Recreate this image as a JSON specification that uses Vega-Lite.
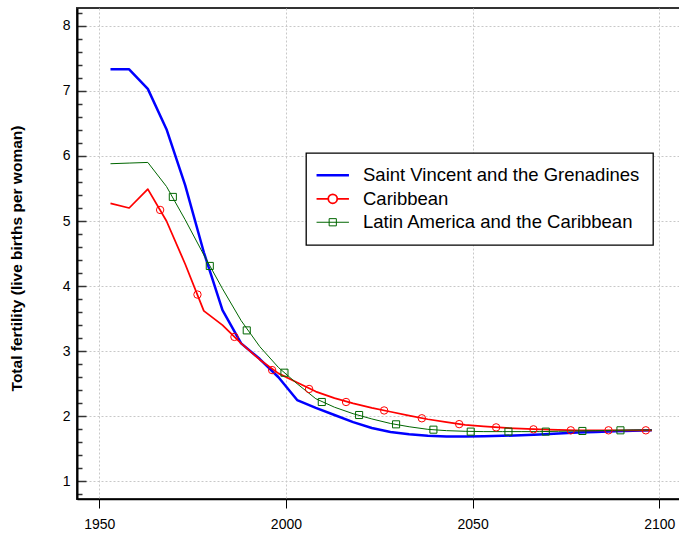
{
  "$schema": "https://vega.github.io/schema/vega-lite/v6.json",
  "width": 604,
  "height": 491,
  "autosize": {"type": "none"},
  "padding": {"left": 77, "top": 8, "right": 0, "bottom": 36},
  "background": "white",
  "config": {
    "view": {"stroke": "#333333", "strokeWidth": 2},
    "font": "Liberation Sans"
  },
  "title": {
    "text": "Total fertility",
    "font": "Liberation Sans",
    "fontSize": 18,
    "fontWeight": "bold",
    "color": "black",
    "anchor": "start",
    "frame": "group",
    "dx": 253,
    "baseline": "alphabetic",
    "offset": 8.5
  },
  "datasets": {
    "lines": [
      {"series": "Saint Vincent and the Grenadines", "year": 1953, "tfr": 7.33},
      {"series": "Saint Vincent and the Grenadines", "year": 1958, "tfr": 7.33},
      {"series": "Saint Vincent and the Grenadines", "year": 1963, "tfr": 7.03},
      {"series": "Saint Vincent and the Grenadines", "year": 1968, "tfr": 6.41},
      {"series": "Saint Vincent and the Grenadines", "year": 1973, "tfr": 5.55},
      {"series": "Saint Vincent and the Grenadines", "year": 1978, "tfr": 4.52},
      {"series": "Saint Vincent and the Grenadines", "year": 1983, "tfr": 3.63},
      {"series": "Saint Vincent and the Grenadines", "year": 1988, "tfr": 3.12},
      {"series": "Saint Vincent and the Grenadines", "year": 1993, "tfr": 2.88},
      {"series": "Saint Vincent and the Grenadines", "year": 1998, "tfr": 2.6},
      {"series": "Saint Vincent and the Grenadines", "year": 2003, "tfr": 2.25},
      {"series": "Saint Vincent and the Grenadines", "year": 2008, "tfr": 2.13},
      {"series": "Saint Vincent and the Grenadines", "year": 2013, "tfr": 2.02},
      {"series": "Saint Vincent and the Grenadines", "year": 2018, "tfr": 1.91},
      {"series": "Saint Vincent and the Grenadines", "year": 2023, "tfr": 1.82},
      {"series": "Saint Vincent and the Grenadines", "year": 2028, "tfr": 1.76},
      {"series": "Saint Vincent and the Grenadines", "year": 2033, "tfr": 1.725},
      {"series": "Saint Vincent and the Grenadines", "year": 2038, "tfr": 1.7},
      {"series": "Saint Vincent and the Grenadines", "year": 2043, "tfr": 1.69},
      {"series": "Saint Vincent and the Grenadines", "year": 2048, "tfr": 1.69},
      {"series": "Saint Vincent and the Grenadines", "year": 2053, "tfr": 1.695},
      {"series": "Saint Vincent and the Grenadines", "year": 2058, "tfr": 1.7},
      {"series": "Saint Vincent and the Grenadines", "year": 2063, "tfr": 1.71},
      {"series": "Saint Vincent and the Grenadines", "year": 2068, "tfr": 1.72},
      {"series": "Saint Vincent and the Grenadines", "year": 2073, "tfr": 1.735},
      {"series": "Saint Vincent and the Grenadines", "year": 2078, "tfr": 1.75},
      {"series": "Saint Vincent and the Grenadines", "year": 2083, "tfr": 1.76},
      {"series": "Saint Vincent and the Grenadines", "year": 2088, "tfr": 1.77},
      {"series": "Saint Vincent and the Grenadines", "year": 2093, "tfr": 1.78},
      {"series": "Saint Vincent and the Grenadines", "year": 2098, "tfr": 1.785},
      {"series": "Caribbean", "year": 1953, "tfr": 5.27},
      {"series": "Caribbean", "year": 1958, "tfr": 5.2},
      {"series": "Caribbean", "year": 1963, "tfr": 5.49},
      {"series": "Caribbean", "year": 1968, "tfr": 5.0},
      {"series": "Caribbean", "year": 1973, "tfr": 4.34},
      {"series": "Caribbean", "year": 1978, "tfr": 3.62},
      {"series": "Caribbean", "year": 1983, "tfr": 3.4},
      {"series": "Caribbean", "year": 1988, "tfr": 3.12},
      {"series": "Caribbean", "year": 1993, "tfr": 2.87},
      {"series": "Caribbean", "year": 1998, "tfr": 2.66},
      {"series": "Caribbean", "year": 2003, "tfr": 2.52},
      {"series": "Caribbean", "year": 2008, "tfr": 2.38},
      {"series": "Caribbean", "year": 2013, "tfr": 2.28},
      {"series": "Caribbean", "year": 2018, "tfr": 2.2},
      {"series": "Caribbean", "year": 2023, "tfr": 2.13},
      {"series": "Caribbean", "year": 2028, "tfr": 2.07},
      {"series": "Caribbean", "year": 2033, "tfr": 2.01},
      {"series": "Caribbean", "year": 2038, "tfr": 1.955},
      {"series": "Caribbean", "year": 2043, "tfr": 1.91},
      {"series": "Caribbean", "year": 2048, "tfr": 1.87},
      {"series": "Caribbean", "year": 2053, "tfr": 1.845},
      {"series": "Caribbean", "year": 2058, "tfr": 1.825},
      {"series": "Caribbean", "year": 2063, "tfr": 1.81},
      {"series": "Caribbean", "year": 2068, "tfr": 1.8},
      {"series": "Caribbean", "year": 2073, "tfr": 1.79},
      {"series": "Caribbean", "year": 2078, "tfr": 1.785},
      {"series": "Caribbean", "year": 2083, "tfr": 1.785},
      {"series": "Caribbean", "year": 2088, "tfr": 1.785},
      {"series": "Caribbean", "year": 2093, "tfr": 1.785},
      {"series": "Caribbean", "year": 2098, "tfr": 1.785},
      {"series": "Latin America and the Caribbean", "year": 1953, "tfr": 5.88},
      {"series": "Latin America and the Caribbean", "year": 1958, "tfr": 5.89},
      {"series": "Latin America and the Caribbean", "year": 1963, "tfr": 5.9},
      {"series": "Latin America and the Caribbean", "year": 1968, "tfr": 5.53},
      {"series": "Latin America and the Caribbean", "year": 1973, "tfr": 5.02},
      {"series": "Latin America and the Caribbean", "year": 1978, "tfr": 4.48},
      {"series": "Latin America and the Caribbean", "year": 1983, "tfr": 3.96},
      {"series": "Latin America and the Caribbean", "year": 1988, "tfr": 3.47},
      {"series": "Latin America and the Caribbean", "year": 1993, "tfr": 3.07},
      {"series": "Latin America and the Caribbean", "year": 1998, "tfr": 2.75},
      {"series": "Latin America and the Caribbean", "year": 2003, "tfr": 2.5},
      {"series": "Latin America and the Caribbean", "year": 2008, "tfr": 2.27},
      {"series": "Latin America and the Caribbean", "year": 2013, "tfr": 2.14},
      {"series": "Latin America and the Caribbean", "year": 2018, "tfr": 2.04},
      {"series": "Latin America and the Caribbean", "year": 2023, "tfr": 1.96},
      {"series": "Latin America and the Caribbean", "year": 2028, "tfr": 1.89},
      {"series": "Latin America and the Caribbean", "year": 2033, "tfr": 1.84},
      {"series": "Latin America and the Caribbean", "year": 2038, "tfr": 1.8},
      {"series": "Latin America and the Caribbean", "year": 2043, "tfr": 1.78},
      {"series": "Latin America and the Caribbean", "year": 2048, "tfr": 1.77},
      {"series": "Latin America and the Caribbean", "year": 2053, "tfr": 1.765},
      {"series": "Latin America and the Caribbean", "year": 2058, "tfr": 1.765},
      {"series": "Latin America and the Caribbean", "year": 2063, "tfr": 1.765},
      {"series": "Latin America and the Caribbean", "year": 2068, "tfr": 1.765},
      {"series": "Latin America and the Caribbean", "year": 2073, "tfr": 1.77},
      {"series": "Latin America and the Caribbean", "year": 2078, "tfr": 1.775},
      {"series": "Latin America and the Caribbean", "year": 2083, "tfr": 1.78},
      {"series": "Latin America and the Caribbean", "year": 2088, "tfr": 1.785},
      {"series": "Latin America and the Caribbean", "year": 2093, "tfr": 1.79},
      {"series": "Latin America and the Caribbean", "year": 2098, "tfr": 1.79}
    ],
    "markers": [
      {"series": "Caribbean", "year": 1966.3, "tfr": 5.17},
      {"series": "Caribbean", "year": 1976.3, "tfr": 3.87},
      {"series": "Caribbean", "year": 1986.2, "tfr": 3.22},
      {"series": "Caribbean", "year": 1996.3, "tfr": 2.71},
      {"series": "Caribbean", "year": 2006.2, "tfr": 2.42},
      {"series": "Caribbean", "year": 2016.1, "tfr": 2.22},
      {"series": "Caribbean", "year": 2026.3, "tfr": 2.09},
      {"series": "Caribbean", "year": 2036.4, "tfr": 1.97},
      {"series": "Caribbean", "year": 2046.4, "tfr": 1.88},
      {"series": "Caribbean", "year": 2056.3, "tfr": 1.83},
      {"series": "Caribbean", "year": 2066.3, "tfr": 1.8},
      {"series": "Caribbean", "year": 2076.3, "tfr": 1.785},
      {"series": "Caribbean", "year": 2086.4, "tfr": 1.785},
      {"series": "Caribbean", "year": 2096.4, "tfr": 1.785},
      {"series": "Latin America and the Caribbean", "year": 1969.7, "tfr": 5.37},
      {"series": "Latin America and the Caribbean", "year": 1979.6, "tfr": 4.31},
      {"series": "Latin America and the Caribbean", "year": 1989.5, "tfr": 3.32},
      {"series": "Latin America and the Caribbean", "year": 1999.6, "tfr": 2.67},
      {"series": "Latin America and the Caribbean", "year": 2009.6, "tfr": 2.22},
      {"series": "Latin America and the Caribbean", "year": 2019.6, "tfr": 2.02},
      {"series": "Latin America and the Caribbean", "year": 2029.5, "tfr": 1.877},
      {"series": "Latin America and the Caribbean", "year": 2039.5, "tfr": 1.795},
      {"series": "Latin America and the Caribbean", "year": 2049.5, "tfr": 1.765},
      {"series": "Latin America and the Caribbean", "year": 2059.6, "tfr": 1.765},
      {"series": "Latin America and the Caribbean", "year": 2069.6, "tfr": 1.765},
      {"series": "Latin America and the Caribbean", "year": 2079.4, "tfr": 1.775},
      {"series": "Latin America and the Caribbean", "year": 2089.6, "tfr": 1.785}
    ]
  },
  "layer": [
    {
      "data": {"name": "lines"},
      "mark": {"type": "line", "strokeJoin": "round"},
      "encoding": {
        "x": {
          "field": "year",
          "type": "quantitative",
          "scale": {"domain": [1944.03, 2105.82], "nice": false, "zero": false},
          "axis": {
            "title": null,
            "values": [1950, 2000, 2050, 2100],
            "tickCount": 20,
            "format": "d",
            "labelFont": "Liberation Sans",
            "labelFontSize": 14,
            "labelColor": "black",
            "labelPadding": 9,
            "labelOverlap": false,
            "tickSize": 9,
            "tickColor": "black",
            "tickWidth": 1,
            "domainColor": "black",
            "domainWidth": 1.5,
            "grid": true,
            "gridColor": "#c8c8c8",
            "gridDash": [2, 2],
            "gridWidth": 1
          }
        },
        "y": {
          "field": "tfr",
          "type": "quantitative",
          "scale": {"domain": [0.73, 8.272], "nice": false, "zero": false},
          "axis": {
            "title": "Total fertility (live births per woman)",
            "titleFont": "Liberation Sans",
            "titleFontSize": 15.5,
            "titleFontWeight": "bold",
            "titleColor": "black",
            "titleX": -61,
            "titleY": 250,
            "titleBaseline": "middle",
            "titleAngle": -90,
            "values": [0.8, 1, 1.2, 1.4, 1.6, 1.8, 2, 2.2, 2.4, 2.6, 2.8, 3, 3.2, 3.4, 3.6, 3.8, 4, 4.2, 4.4, 4.6, 4.8, 5, 5.2, 5.4, 5.6, 5.8, 6, 6.2, 6.4, 6.6, 6.8, 7, 7.2, 7.4, 7.6, 7.8, 8, 8.2],
            "tickCount": 100,
            "labelExpr": "abs(datum.value - round(datum.value)) < 0.001 ? format(round(datum.value), 'd') : ''",
            "labelOverlap": false,
            "labelFont": "Liberation Sans",
            "labelFontSize": 14,
            "labelColor": "black",
            "labelPadding": 16,
            "tickSize": {"condition": {"test": "abs(datum.value - round(datum.value)) < 0.001", "value": -9}, "value": -5},
            "tickColor": "#333333",
            "tickWidth": 1.5,
            "domainColor": "black",
            "domainWidth": 2,
            "grid": true,
            "gridColor": "#c8c8c8",
            "gridDash": [2, 2],
            "gridWidth": 1,
            "gridOpacity": {"condition": {"test": "abs(datum.value - round(datum.value)) < 0.001", "value": 1}, "value": 0}
          }
        },
        "detail": {"field": "series"},
        "color": {
          "field": "series",
          "type": "nominal",
          "scale": {
            "domain": ["Saint Vincent and the Grenadines", "Caribbean", "Latin America and the Caribbean"],
            "range": ["#0000FF", "#FF0000", "#006600"]
          },
          "legend": {
            "orient": "none",
            "legendX": 229,
            "legendY": 145,
            "title": null,
            "labelFont": "Liberation Sans",
            "labelFontSize": 18.5,
            "labelColor": "black",
            "labelLimit": 400,
            "symbolSize": 81,
            "symbolStrokeWidth": 1,
            "symbolOffset": 4.5,
            "labelOffset": 21,
            "rowPadding": 4.5,
            "padding": 13,
            "strokeColor": "black",
            "fillColor": "white",
            "encode": {
              "legend": {"update": {"strokeWidth": {"value": 1.3}}},
              "symbols": {
                "update": {
                  "shape": {"signal": "datum.value === 'Saint Vincent and the Grenadines' ? 'M-3.6,0L3.6,0' : datum.value === 'Caribbean' ? 'M-3.6,0L-1,0M1,0L3.6,0M1,0A1,1 0 1 1 -1,0A1,1 0 1 1 1,0' : 'M-3.6,0L3.6,0M-0.8,-0.8L0.8,-0.8L0.8,0.8L-0.8,0.8Z'"},
                  "strokeWidth": {"signal": "datum.value === 'Saint Vincent and the Grenadines' ? 2.5 : 1"},
                  "stroke": {"scale": "color", "field": "value"},
                  "fill": {"value": "transparent"},
                  "opacity": {"value": 1}
                }
              }
            }
          }
        },
        "strokeWidth": {
          "field": "series",
          "type": "nominal",
          "scale": {
            "domain": ["Saint Vincent and the Grenadines", "Caribbean", "Latin America and the Caribbean"],
            "range": [2.5, 1, 1]
          },
          "legend": null
        }
      }
    },
    {
      "data": {"name": "markers"},
      "transform": [{"filter": "datum.series === 'Caribbean'"}],
      "mark": {"type": "point", "shape": "circle", "filled": false, "size": 55, "strokeWidth": 1, "color": "#FF0000", "opacity": 1},
      "encoding": {
        "x": {"field": "year", "type": "quantitative"},
        "y": {"field": "tfr", "type": "quantitative"}
      }
    },
    {
      "data": {"name": "markers"},
      "transform": [{"filter": "datum.series === 'Latin America and the Caribbean'"}],
      "mark": {"type": "point", "shape": "square", "filled": false, "size": 50, "strokeWidth": 1, "color": "#006600", "opacity": 1},
      "encoding": {
        "x": {"field": "year", "type": "quantitative"},
        "y": {"field": "tfr", "type": "quantitative"}
      }
    }
  ]
}
